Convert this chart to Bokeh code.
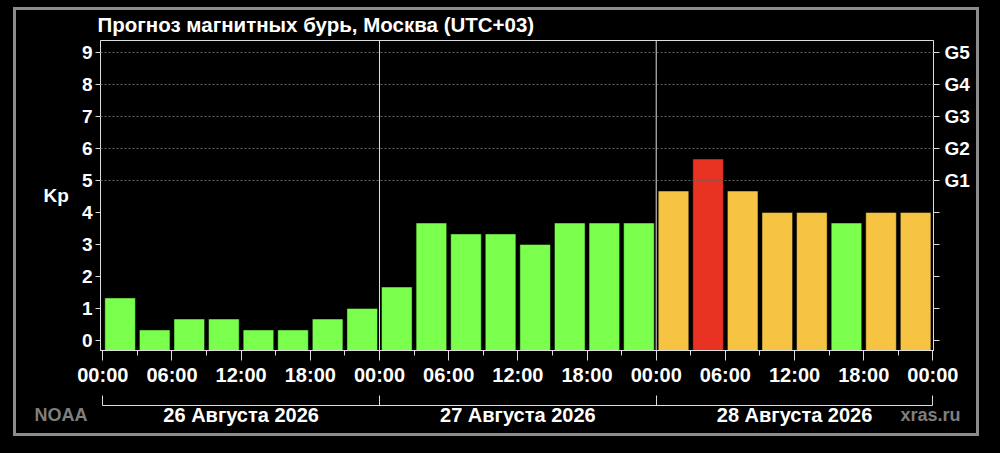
from bokeh.plotting import figure
from bokeh.models import (ColumnDataSource, FixedTicker, LinearAxis, Title,
                          Span, Range1d, GlobalInlineStyleSheet)
from bokeh.embed import file_html
from bokeh.resources import INLINE

# ---- data ----
slot_start_hours = [0, 3, 6, 9, 12, 15, 18, 21,
                    24, 27, 30, 33, 36, 39, 42, 45,
                    48, 51, 54, 57, 60, 63, 66, 69]
kp_values = [1.33, 0.33, 0.67, 0.67, 0.33, 0.33, 0.67, 1.0,
             1.67, 3.67, 3.33, 3.33, 3.0, 3.67, 3.67, 3.67,
             4.67, 5.67, 4.67, 4.0, 4.0, 3.67, 4.0, 4.0]
time_tick_hours = [0, 6, 12, 18, 24, 30, 36, 42, 48, 54, 60, 66, 72]
time_tick_labels = ["00:00", "06:00", "12:00", "18:00", "00:00", "06:00", "12:00",
                    "18:00", "00:00", "06:00", "12:00", "18:00", "00:00"]
day_boundaries = [0, 24, 48, 72]
day_centers = [12, 36, 60]
day_labels = ["26 Августа 2026", "27 Августа 2026", "28 Августа 2026"]
kp_ticks = [0, 1, 2, 3, 4, 5, 6, 7, 8, 9]
g_ticks = [5, 6, 7, 8, 9]
g_labels = ["G1", "G2", "G3", "G4", "G5"]
title_text = "Прогноз магнитных бурь, Москва (UTC+03)"
source_left = "NOAA"
source_right = "xras.ru"

GREEN, ORANGE, RED = "#7aff4d", "#f6c343", "#e83323"


def kp_color(v):
    if v >= 5:
        return RED
    if v >= 4:
        return ORANGE
    return GREEN


FONT = "Liberation Sans"
Y0 = -0.3125
src = ColumnDataSource(dict(
    x=[h + 1.5 for h in slot_start_hours],
    top=kp_values,
    bottom=[Y0] * len(kp_values),
    color=[kp_color(v) for v in kp_values],
))

# canvas placed at (13, 7) on the page; the gray frame is the canvas edge
p = figure(width=966, height=429, x_range=Range1d(-0.2, 72.05), y_range=Range1d(Y0, 9.375),
           output_backend="svg", toolbar_location=None,
           x_axis_location=None, y_axis_location=None,
           background_fill_color="black", border_fill_color="black", border_fill_alpha=0,
           min_border_left=87, min_border_right=46, min_border_top=33, min_border_bottom=86)
p.stylesheets = [GlobalInlineStyleSheet(
    css="html, body { background-color: #000000; padding: 0; overflow: hidden; } "
        "body { margin: 7px 0 0 13px; }")]
p.styles = {"box-shadow": "inset 0 0 0 3px #8c8c8c",
            "outline": "3px solid #8c8c8c", "outline-offset": "-3px"}
p.outline_line_color = "#dddddd"
p.outline_line_width = 1

# title
p.title.text = title_text
p.title.text_color = "white"
p.title.text_font = FONT
p.title.text_font_style = "bold"
p.title.text_font_size = "20.5px"
p.title.align = "left"
p.title.vertical_align = "top"
p.title.offset = -3
p.title.standoff = 5

p.grid.visible = False

for g in g_ticks:
    p.add_layout(Span(location=g, dimension="width", line_color="#606060",
                      line_dash="2 2", line_width=1))
for d in day_boundaries[1:-1]:
    p.add_layout(Span(location=d, dimension="height", line_color="#dddddd", line_width=1))

p.vbar(x="x", width=2.65, top="top", bottom="bottom", source=src,
       fill_color="color", line_color="#000000", line_alpha=0.45, line_width=1)

AX = "#dddddd"


def style_axis(ax, size="19px"):
    ax.axis_line_color = AX
    ax.major_tick_line_color = AX
    ax.minor_tick_line_color = AX
    ax.major_label_text_color = "white"
    ax.major_label_text_font = FONT
    ax.major_label_text_font_style = "bold"
    ax.major_label_text_font_size = size


# left axis
yl = LinearAxis(ticker=FixedTicker(ticks=kp_ticks, minor_ticks=[]))
style_axis(yl)
yl.major_tick_out = 5
yl.major_tick_in = 0
yl.major_label_standoff = 3
yl.axis_label = "Kp"
yl.axis_label_orientation = "horizontal"
yl.axis_label_standoff = 10
yl.axis_label_text_color = "white"
yl.axis_label_text_font = FONT
yl.axis_label_text_font_style = "bold"
yl.axis_label_text_font_size = "19px"
p.add_layout(yl, "left")

# right axis (G scale)
yr = LinearAxis(ticker=FixedTicker(ticks=kp_ticks, minor_ticks=[]),
                major_label_overrides={t: (g_labels[g_ticks.index(t)] if t in g_ticks else "")
                                       for t in kp_ticks})
style_axis(yr)
yr.major_tick_out = 6
yr.major_tick_in = 0
yr.major_label_standoff = 5
p.add_layout(yr, "right")

# bottom time axis
xa = LinearAxis(ticker=FixedTicker(ticks=time_tick_hours, minor_ticks=slot_start_hours + [72]),
                major_label_overrides=dict(zip(time_tick_hours, time_tick_labels)))
style_axis(xa, "20px")
xa.major_tick_out = 10
xa.major_tick_in = 0
xa.minor_tick_out = 5
xa.minor_tick_in = 0
xa.major_label_standoff = 3
xa.axis_label = "\u00a0"
xa.axis_label_text_font_size = "12px"
xa.axis_label_standoff = 0
xa.axis_label_text_color = "black"
p.add_layout(xa, "below")

# bracket + day labels axis
xb = LinearAxis(ticker=FixedTicker(ticks=day_centers, minor_ticks=day_boundaries),
                major_label_overrides=dict(zip(day_centers, day_labels)), bounds=(0, 72))
style_axis(xb, "20px")
xb.major_tick_out = 0
xb.major_tick_in = 0
xb.minor_tick_in = 10
xb.minor_tick_out = 0
xb.major_label_standoff = -2
p.add_layout(xb, "below")

# source credits
t1 = Title(text=source_left, align="left", vertical_align="top", offset=-66, standoff=-48,
           text_color="#7f7f7f", text_font=FONT, text_font_style="bold", text_font_size="18px")
t2 = Title(text=source_right, align="right", vertical_align="top", offset=-27, standoff=-48,
           text_color="#7f7f7f", text_font=FONT, text_font_style="bold", text_font_size="18px")
p.add_layout(t1, "below")
p.add_layout(t2, "below")

open("out.html", "w").write(file_html(p, INLINE))
